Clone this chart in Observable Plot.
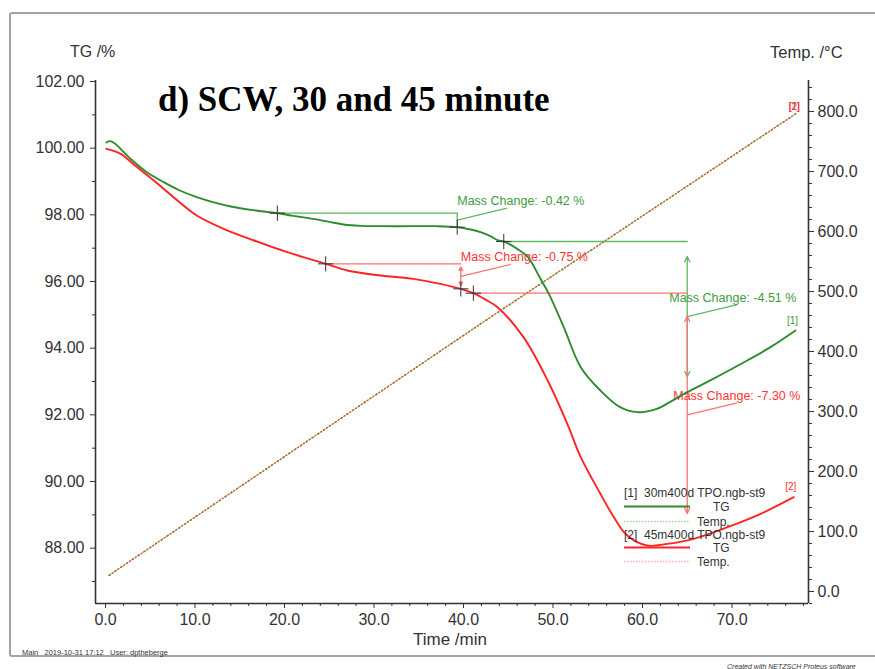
<!DOCTYPE html>
<html>
<head>
<meta charset="utf-8">
<script src="https://cdn.jsdelivr.net/npm/d3@7"></script>
<script src="https://cdn.jsdelivr.net/npm/@observablehq/plot@0.6"></script>
<style>
  body { margin: 0; background: #fff; }
  #wrap { position: relative; width: 875px; height: 669px; overflow: hidden; background: #fff;
          font-family: "Liberation Sans", Arial, sans-serif; color: #333; }
  #chart { position: absolute; left: 0; top: 0; }
  .abs { position: absolute; white-space: pre; line-height: 1; }
  .frame { position: absolute; left: 9px; top: 12px; width: 900px; height: 645px;
           border: 2px solid #a3a3a3; border-radius: 3px; box-sizing: border-box; }
  .title { font-family: "Liberation Serif", "Times New Roman", serif; font-weight: bold; font-size: 35px; color: #000; }
  .lg { font-size: 12px; color: #333; }
  #legendKeys { position: absolute; left: 0; top: 0; }
</style>
</head>
<body>
<div id="wrap">
  <div id="chart"></div>
  <div class="frame"></div>
  <div class="abs title" style="left:158px; top:82px;">d) SCW, 30 and 45 minute</div>
  <div class="abs" style="left:70px; top:44px; font-size:16px;">TG /%</div>
  <div class="abs" style="left:770px; top:44px; font-size:16.5px;">Temp. /°C</div>
  <div class="abs" style="left:413px; top:631px; font-size:17px;">Time /min</div>
  <div class="abs" style="left:22px; top:649px; font-size:7.5px;">Main   2019-10-31 17:12   User: dptheberge</div>
  <div class="abs" style="left:727px; top:663px; font-size:7px; font-style:italic;">Created with NETZSCH Proteus software</div>

  <!-- legend -->
  <svg id="legendKeys" width="875" height="669">
    <line x1="624" x2="690" y1="506.5" y2="506.5" stroke="#2e8b2e" stroke-width="1.8"/>
    <line x1="624" x2="690" y1="521.5" y2="521.5" stroke="#9fd49f" stroke-width="1.6" stroke-dasharray="1.5,1.5"/>
    <line x1="624" x2="690" y1="547.5" y2="547.5" stroke="#ff2424" stroke-width="1.8"/>
    <line x1="624" x2="690" y1="561.5" y2="561.5" stroke="#ffb0b0" stroke-width="1.6" stroke-dasharray="1.5,1.5"/>
  </svg>
  <div class="abs lg" style="left:624px; top:487px;">[1]  30m400d TPO.ngb-st9</div>
  <div class="abs lg" style="left:713px; top:501px;">TG</div>
  <div class="abs lg" style="left:697px; top:516px;">Temp.</div>
  <div class="abs lg" style="left:624px; top:529px;">[2]  45m400d TPO.ngb-st9</div>
  <div class="abs lg" style="left:713px; top:542px;">TG</div>
  <div class="abs lg" style="left:697px; top:556px;">Temp.</div>
</div>
<script>
// TG curve of sample [1] (30 min SCW): time in min, mass in %
const time1 = [0.1, 0.5, 1.0, 2.8, 4.5, 6.5, 8.3, 10.2, 12.0, 14.0, 16.5, 19.2, 21.0, 23.2, 25.0, 26.6, 28.5,
  30.7, 34.4, 37.0, 39.3, 40.8, 41.9, 43.0, 43.9, 44.5, 46.0, 47.2, 48.6, 49.5, 51.2, 53.1, 55.3, 57.5,
  59.4, 61.6, 63.3, 65.0, 67.9, 71.7, 74.3, 77.1];
const tg1 = [100.17, 100.21, 100.15, 99.68, 99.30, 98.98, 98.73, 98.53, 98.38, 98.25, 98.14, 98.05, 97.97,
  97.88, 97.79, 97.71, 97.67, 97.66, 97.66, 97.66, 97.63, 97.56, 97.48, 97.36, 97.23, 97.20, 96.98, 96.73,
  96.08, 95.65, 94.63, 93.43, 92.73, 92.23, 92.08, 92.18, 92.42, 92.68, 93.08, 93.63, 94.03, 94.53];

// TG curve of sample [2] (45 min SCW)
const time2 = [0.1, 1.7, 3.2, 4.7, 6.2, 7.6, 10.2, 13.2, 16.6, 20.3, 24.6, 27.0, 30.7, 34.4, 37.4, 39.7,
  41.1, 42.5, 43.8, 46.7, 49.4, 51.6, 53.1, 55.3, 56.8, 58.3, 60.5, 62.8, 65.7, 69.5, 73.2, 76.9];
const tg2 = [99.98, 99.83, 99.50, 99.18, 98.85, 98.53, 97.98, 97.58, 97.23, 96.88, 96.53, 96.33, 96.18,
  96.08, 95.93, 95.78, 95.65, 95.45, 95.23, 94.33, 93.03, 91.73, 90.73, 89.63, 88.93, 88.38, 88.08, 88.13,
  88.28, 88.63, 89.03, 89.53];

// Furnace temperature (same program for both runs), °C
const tempTime = [0.4, 41.9, 77.3];
const tempC = [27, 446, 798];

// Evaluation points (+) on each curve
const markTime = [19.2, 39.3, 44.5, 24.6, 39.7, 41.1];
const markTG = [98.05, 97.63, 97.20, 96.53, 95.78, 95.65];
const markSeries = [1, 1, 1, 2, 2, 2];

// Mass-change steps
const changeLabels = ["Mass Change: -0.42 %", "Mass Change: -0.75 %", "Mass Change: -4.51 %", "Mass Change: -7.30 %"];
const changeValues = [-0.42, -0.75, -4.51, -7.30];
const changeStart = [19.2, 24.6, 44.5, 41.1];
const changeLevel = [98.05, 96.53, 97.20, 95.65];
const changeAt = [39.3, 39.7, 65.0, 65.0];
const changeSeries = [1, 2, 1, 2];

// Axis ticks
const tgTicks = [88, 90, 92, 94, 96, 98, 100, 102];
const tempTicks = [0, 100, 200, 300, 400, 500, 600, 700, 800];
const timeTicks = [0, 10, 20, 30, 40, 50, 60, 70];

// ---- layout / styling ----
const xDom = [-1.12, 78.55];
const yDom = [86.34, 102.03];
const tDom = [-20, 851.7];            // right-hand temperature axis range
const W = 875, H = 669, mL = 95, mR = 67, mT = 80, mB = 66;
const pxPerMin = (W - mL - mR) / (xDom[1] - xDom[0]);
const pxPerTG = (H - mT - mB) / (yDom[1] - yDom[0]);
const toTG = T => yDom[0] + (T - tDom[0]) * (yDom[1] - yDom[0]) / (tDom[1] - tDom[0]);
const toTemp = v => tDom[0] + (v - yDom[0]) * (tDom[1] - tDom[0]) / (yDom[1] - yDom[0]);

const colLine = {1: "#2e8b2e", 2: "#ff2424"};
const colAnno = {1: "#62b862", 2: "#ff7272"};
const colText = {1: "#3c9c3c", 2: "#ff3333"};
const labelDx = [0, 0, -18, -14];
const arrowInset = [0, 3, 15, 23];

const rows1 = time1.map((t, i) => ({t, v: tg1[i]}));
const rows2 = time2.map((t, i) => ({t, v: tg2[i]}));
const tempRows = tempTime.map((t, i) => ({t, v: toTG(tempC[i])}));
const markRows = markTime.map((t, i) => ({t, v: markTG[i], s: markSeries[i]}));

const minor = (a, b, step, skip) => d3.range(a, b + 1e-9, step).filter(d => !skip.some(s => Math.abs(s - d) < 1e-9));

const marks = [
  // axis lines
  Plot.ruleX([xDom[0], xDom[1]], {stroke: "#333", strokeWidth: 1.6}),
  Plot.ruleY([yDom[0]], {stroke: "#333", strokeWidth: 1.6}),
  // left TG axis
  Plot.axisY(tgTicks, {anchor: "left", tickSize: 5, tickPadding: 6, tickFormat: d => d.toFixed(2), label: null}),
  Plot.axisY(minor(87, 101, 2, []), {anchor: "left", tickSize: 3, tickFormat: () => "", label: null}),
  // right temperature axis
  Plot.axisY(tempTicks.map(toTG), {anchor: "right", tickSize: 5, tickPadding: 4, tickFormat: d => toTemp(d).toFixed(1), label: null}),
  Plot.axisY(minor(-20, 840, 20, tempTicks).map(toTG), {anchor: "right", tickSize: 3, tickFormat: () => "", label: null}),
  // time axis
  Plot.axisX(timeTicks, {anchor: "bottom", tickSize: 5, tickPadding: 5, tickFormat: d => d.toFixed(1), label: null}),
  Plot.axisX(minor(2, 78, 2, timeTicks), {anchor: "bottom", tickSize: 3, tickFormat: () => "", label: null}),
  // temperature program: two overlapping dotted traces, red and green alternating
  Plot.line(tempRows, {x: "t", y: "v", stroke: "#e0502f", strokeWidth: 1.4, strokeDasharray: "1.3,2.2"}),
  Plot.line(tempRows, {x: "t", y: "v", stroke: "#5a9a3a", strokeWidth: 1.4, strokeDasharray: "1.3,5.7"})
];

// step annotations
changeValues.forEach((dv, i) => {
  const s = changeSeries[i];
  const top = changeLevel[i], bot = top + dv, at = changeAt[i];
  const mid = (top + bot) / 2;
  marks.push(Plot.line([{t: changeStart[i], v: top}, {t: at, v: top}], {x: "t", y: "v", stroke: colAnno[s], strokeWidth: 1.3}));
  if (Math.abs(dv) * pxPerTG < 20) {
    marks.push(Plot.line([{t: at, v: top}, {t: at, v: bot}], {x: "t", y: "v", stroke: colAnno[s], strokeWidth: 1.3}));
  } else {
    for (const end of [top, bot]) {
      marks.push(Plot.arrow([{}], {x1: at, y1: mid, x2: at, y2: end, stroke: colAnno[s], strokeWidth: 1.3,
        headLength: 7, headAngle: 50, insetEnd: arrowInset[i]}));
    }
  }
  marks.push(Plot.link([{}], {x1: at, y1: mid, x2: at + 50 / pxPerMin, y2: mid + 12 / pxPerTG,
    stroke: colAnno[s], strokeWidth: 1.2}));
  marks.push(Plot.text([changeLabels[i]], {x: at + labelDx[i] / pxPerMin, y: mid + 19 / pxPerTG,
    text: d => d, textAnchor: "start", lineAnchor: "middle", fill: colText[s], fontSize: 12.5}));
});

marks.push(
  Plot.line(rows1, {x: "t", y: "v", stroke: colLine[1], strokeWidth: 1.9, curve: "catmull-rom"}),
  Plot.line(rows2, {x: "t", y: "v", stroke: colLine[2], strokeWidth: 1.9, curve: "catmull-rom"}),
  Plot.dot(markRows, {x: "t", y: "v", symbol: "plus", r: 5, stroke: "#333", strokeWidth: 1}),
  // curve end tags
  Plot.text([rows1[rows1.length - 1]], {x: "t", y: "v", text: () => "[1]", dy: -10, dx: -3, fill: colText[1], fontSize: 10}),
  Plot.text([rows2[rows2.length - 1]], {x: "t", y: "v", text: () => "[2]", dy: -10, dx: -3, fill: colText[2], fontSize: 10}),
  Plot.text([tempRows[tempRows.length - 1]], {x: "t", y: "v", text: () => "[1]", dy: -6, dx: -3, fill: "#666", fontSize: 10}),
  Plot.text([tempRows[tempRows.length - 1]], {x: "t", y: "v", text: () => "[2]", dy: -6, dx: -3, fill: colText[2], fontSize: 10,
    stroke: colText[2], strokeWidth: 0.2})
);

const chart = Plot.plot({
  width: W, height: H,
  marginLeft: mL, marginRight: mR, marginTop: mT, marginBottom: mB,
  x: {domain: xDom},
  y: {domain: yDom},
  style: {fontFamily: "Liberation Sans, Arial, sans-serif", fontSize: "16px", color: "#333", background: "transparent", overflow: "visible"},
  marks
});
document.getElementById("chart").appendChild(chart);
</script>
</body>
</html>
